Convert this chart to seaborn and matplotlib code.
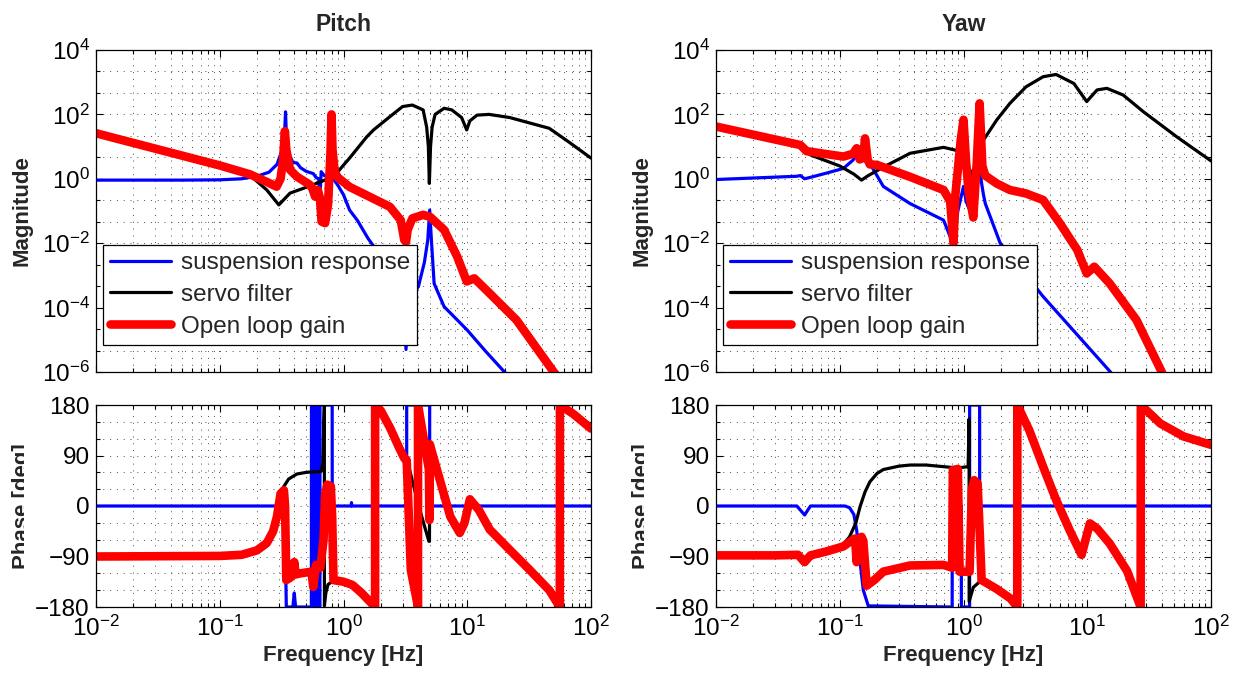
import numpy as np
import matplotlib
matplotlib.use("Agg")
import matplotlib.pyplot as plt
import matplotlib.ticker as mticker
from matplotlib.transforms import Bbox, TransformedBbox
import seaborn as sns

# ---------------- data ----------------
series_names = ["suspension response", "servo filter", "Open loop gain"]
panel_titles = ["Pitch", "Yaw"]

# Pitch magnitude
pitch_sus_f = [0.01, 0.05, 0.1, 0.15, 0.2, 0.25, 0.29, 0.32, 0.335, 0.34, 0.345, 0.36, 0.39, 0.42, 0.45,
               0.5, 0.57, 0.6, 0.63, 0.645, 0.66, 0.7, 0.82, 0.9, 1.0, 1.12, 1.3, 1.58, 2.0, 2.5,
               2.9, 3.1, 3.2, 3.3, 3.6, 4.03, 4.5, 4.8, 4.97, 5.15, 5.4, 6.5, 10, 14, 20, 25]
pitch_sus_mag = [0.91, 0.91, 0.93, 1.0, 1.2, 1.6, 2.8, 8, 32, 120, 25, 6.3, 3.2, 3.1, 2.2,
                 1.7, 1.45, 1.1, 1.0, 0.25, 1.66, 1.25, 1.05, 0.63, 0.32, 0.107, 0.05, 0.014, 4e-3, 1.3e-3,
                 3.2e-4, 6.3e-5, 5e-6, 6.3e-5, 2.5e-4, 4.5e-4, 2.5e-3, 1.26e-2, 0.107, 1e-2, 5.6e-4, 1.07e-4, 2e-5, 4.5e-6, 1e-6, 4e-7]

pitch_servo_f = [0.01, 0.1, 0.175, 0.24, 0.30, 0.37, 0.47, 0.6, 0.7, 0.88, 1.12, 1.54, 1.75, 2.37, 3.0,
                 3.6, 4.4, 4.7, 4.85, 4.94, 5.05, 5.2, 5.5, 6.5, 7.5, 9.0, 9.9, 10.5, 12, 15, 22, 46, 66, 100]
pitch_servo_mag = [29, 2.8, 1.3, 0.45, 0.155, 0.36, 0.5, 0.71, 0.9, 1.5, 4.4, 20, 33, 85, 175,
                   195, 138, 40, 10, 0.72, 10, 40, 100, 155, 138, 80, 33, 63, 95, 100, 80, 37, 14, 4.4]

pitch_olg_f = [0.01, 0.1, 0.175, 0.24, 0.288, 0.31, 0.325, 0.336, 0.345, 0.37, 0.42, 0.535, 0.56, 0.59,
               0.62, 0.645, 0.665, 0.71, 0.75, 0.785, 0.80, 0.815, 0.85, 0.9, 1.12, 1.63, 2.37, 2.9,
               3.1, 3.2, 3.3, 3.6, 4.4, 5.0, 6.5, 8.3, 9.9, 11.4, 15.2, 25, 50, 60]
pitch_olg_mag = [26, 2.6, 1.38, 0.8, 0.57, 1.0, 4.0, 30, 8, 1.9, 1.17, 0.65, 0.5, 0.28,
                 0.45, 0.25, 0.047, 0.042, 0.16, 6.3, 100, 8, 1.6, 1.1, 0.56, 0.275, 0.135, 0.052,
                 0.0126, 0.011, 0.026, 0.059, 0.076, 0.066, 0.026, 3.8e-3, 6.5e-4, 8.1e-4, 2.75e-4, 4.1e-5, 1e-6, 4e-7]

# Yaw magnitude
yaw_sus_f = [0.01, 0.045, 0.048, 0.052, 0.06, 0.078, 0.107, 0.128, 0.137, 0.15, 0.175, 0.225, 0.37, 0.69,
             0.78, 0.83, 0.9, 1.0, 1.05, 1.1, 1.2, 1.36, 1.45, 1.5, 1.98, 4.4, 15.4, 20]
yaw_sus_mag = [0.95, 1.2, 1.26, 1.0, 1.15, 1.5, 2.1, 3.8, 5.5, 4.0, 3.0, 0.58, 0.17, 0.052,
               0.016, 0.008, 0.1, 0.58, 0.2, 0.126, 0.4, 1.45, 0.32, 0.17, 0.01, 2.2e-4, 1e-6, 3.2e-7]

yaw_servo_f = [0.01, 0.048, 0.058, 0.1, 0.13, 0.15, 0.17, 0.225, 0.37, 0.69, 0.88, 1.0, 1.15, 1.2, 1.25,
               1.45, 1.86, 2.37, 3.2, 4.4, 5.6, 7.8, 9.9, 12, 14.4, 19.5, 28.5, 53, 100]
yaw_servo_mag = [44, 10, 5.5, 2.5, 1.4, 0.91, 1.26, 2.3, 6.2, 9.5, 7.6, 5.0, 1.6, 0.91, 4.0,
                 16, 68, 220, 720, 1480, 1740, 910, 250, 575, 645, 400, 120, 20, 3.6]

yaw_olg_f = [0.01, 0.048, 0.054, 0.107, 0.128, 0.137, 0.145, 0.155, 0.16, 0.168, 0.175, 0.2, 0.37, 0.69,
             0.78, 0.83, 0.86, 0.95, 1.0, 1.05, 1.1, 1.2, 1.28, 1.35, 1.42, 1.5, 1.86, 2.37, 3.2, 4.4,
             6.0, 8.3, 9.9, 11.4, 15.2, 25, 40, 45]
yaw_olg_mag = [42, 11.2, 7.2, 4.9, 6.0, 8.9, 4.0, 4.5, 18, 4.0, 2.8, 2.7, 1.15, 0.45,
               0.2, 0.01, 0.32, 16, 68, 3.2, 0.4, 0.063, 3.2, 220, 2.5, 1.26, 0.71, 0.45, 0.35, 0.22,
               0.042, 6.2e-3, 1.15e-3, 1.86e-3, 5.6e-4, 4.1e-5, 1e-6, 3.2e-7]

# Pitch phase [deg]
pitch_sus_ph_f = [0.01, 0.33, 0.34, 0.345, 0.39, 0.40, 0.41, 0.55, 0.551, 0.565, 0.566, 0.58, 0.581, 0.595,
                  0.596, 0.61, 0.611, 0.63, 0.631, 0.645, 0.646, 0.81, 0.811, 1.15, 1.16, 1.17, 3.24, 3.241,
                  4.97, 4.971, 100]
pitch_sus_ph = [0, 0, -90, -180, -180, -155, -180, -180, 180, 180, -180, -180, 180, 180,
                -180, -180, 180, 180, -180, -180, 180, 180, 0, 0, 6, 0, 0, 180,
                180, 0, 0]

pitch_servo_ph_f = [0.01, 0.1, 0.15, 0.2, 0.24, 0.27, 0.29, 0.31, 0.33, 0.36, 0.42, 0.5, 0.6, 0.66, 0.68,
                    0.70, 0.701, 0.72, 0.75, 0.84, 1.0, 1.2, 1.4, 1.8, 1.801, 2.0, 2.37, 2.8, 3.1, 3.24,
                    3.6, 4.0, 4.5, 4.9, 4.95, 4.98, 5.6, 7.3, 8.7, 9.5, 10.5, 12.4, 15.2, 22, 32, 46,
                    56, 56.1, 72, 100]
pitch_servo_ph = [-90, -89, -87, -79, -66, -45, -19, 25, 35, 48, 57, 60, 61, 62, 75,
                  178, -178, -155, -140, -132, -135, -142, -155, -180, 180, 170, 140, 105, 85, 85,
                  45, 5, -35, -63, -63, 110, 70, -19, -48, -30, 12, -7, -42, -78, -114, -150,
                  -180, 180, 164, 138]

pitch_olg_ph_f = [0.01, 0.1, 0.15, 0.2, 0.24, 0.27, 0.29, 0.31, 0.33, 0.337, 0.345, 0.37, 0.39, 0.40,
                  0.41, 0.45, 0.55, 0.57, 0.60, 0.65, 0.69, 0.71, 0.74, 0.79, 0.81, 0.83, 1.0, 1.16,
                  1.2, 1.4, 1.8, 1.801, 2.0, 2.37, 2.8, 3.1, 3.24, 3.5, 4.0, 4.001, 4.9, 4.95, 4.98,
                  5.6, 7.3, 8.7, 9.5, 10.5, 12.4, 15.2, 22, 32, 46, 56, 56.1, 72, 100]
pitch_olg_ph = [-90, -89, -87, -79, -66, -45, -19, 22, 28, 0, -132, -128, -122, -100,
                -122, -120, -117, -144, -105, -110, -60, 20, 38, 35, -20, -132, -135, -140,
                -142, -155, -180, 180, 170, 140, 105, 85, 82, -114, -180, 180, 65, -25, 110,
                70, -19, -48, -30, 12, -7, -42, -78, -114, -150, -180, 180, 164, 138]

# Yaw phase [deg]
yaw_sus_ph_f = [0.01, 0.045, 0.052, 0.058, 0.11, 0.12, 0.13, 0.137, 0.146, 0.155, 0.17, 0.81, 0.811,
                0.96, 0.961, 1.12, 1.121, 1.35, 1.351, 100]
yaw_sus_ph = [0, 0, -16, 0, 0, -3, -15, -43, -100, -150, -178, -180, 0,
              0, -180, -180, 180, 180, 0, 0]

yaw_servo_ph_f = [0.01, 0.046, 0.052, 0.058, 0.078, 0.107, 0.12, 0.135, 0.146, 0.16, 0.175, 0.2, 0.225,
                  0.3, 0.37, 0.5, 0.78, 0.9, 1.09, 1.11, 1.111, 1.2, 1.4, 1.86, 2.4, 2.72, 2.721, 3.4,
                  4.4, 5.6, 7.2, 9.0, 10.5, 12, 15.2, 21, 27, 27.1, 39, 60, 100]
yaw_servo_ph = [-88, -87, -92, -88, -80, -68, -55, -30, -1, 25, 43, 58, 65,
                71, 73, 73, 69, 68, 70, 155, -170, -145, -132, -148, -165, -180, 180, 135,
                70, 11, -43, -87, -31, -40, -67, -116, -180, 180, 147, 124, 109]

yaw_olg_ph_f = [0.01, 0.03, 0.046, 0.052, 0.058, 0.078, 0.107, 0.128, 0.133, 0.137, 0.143, 0.15, 0.155,
                0.165, 0.19, 0.225, 0.37, 0.69, 0.81, 0.82, 0.9, 0.93, 1.12, 1.17, 1.22, 1.3, 1.36,
                1.4, 1.86, 2.4, 2.72, 2.721, 3.4, 4.4, 5.6, 7.2, 9.0, 10.5, 12, 15.2, 21, 27, 27.1,
                39, 60, 100]
yaw_olg_ph = [-88, -88, -87, -100, -88, -81, -72, -60, -58, -100, -70, -55, -62,
              -142, -132, -117, -106, -105, -110, 64, 66, -117, -117, 30, 46, 40, -60,
              -132, -148, -165, -180, 180, 135, 70, 11, -43, -87, -31, -40, -67, -116, -180, 180,
              147, 124, 109]

# ---------------- style ----------------
sns.set_style("ticks")
plt.rcParams["font.family"] = ["Liberation Sans", "DejaVu Sans"]
plt.rcParams["axes.unicode_minus"] = True

colors = ["#0000ff", "#000000", "#ff0000"]
widths = [2.3, 2.3, 6.2]
tick_fs = 17.5

W, H = 1236, 679
fig = plt.figure(figsize=(W / 100, H / 100), dpi=100)


def px_axes(left, top, right, bottom):
    return fig.add_axes([left / W, 1 - bottom / H, (right - left) / W, (bottom - top) / H])


def style(ax, mag):
    ax.set_xscale("log")
    ax.set_xlim(1e-2, 1e2)
    ax.xaxis.set_major_locator(mticker.LogLocator(base=10, numticks=10))
    ax.xaxis.set_minor_locator(mticker.LogLocator(base=10, subs=np.arange(2, 10), numticks=20))
    ax.xaxis.set_minor_formatter(mticker.NullFormatter())
    if mag:
        ax.set_yscale("log")
        ax.set_ylim(1e-6, 1e4)
        ax.yaxis.set_major_locator(mticker.FixedLocator(10.0 ** np.arange(-6, 5, 2)))
        thirds = [e for e in np.arange(-6, 4.01, 2 / 3) if abs(e - round(e)) > 0.01 or round(e) % 2]
        ax.yaxis.set_minor_locator(mticker.FixedLocator(10.0 ** np.array(thirds)))
        ax.yaxis.set_major_formatter(mticker.LogFormatterSciNotation())
    else:
        ax.set_ylim(-180, 180)
        ax.yaxis.set_major_locator(mticker.FixedLocator([-180, -90, 0, 90, 180]))
        ax.yaxis.set_minor_locator(mticker.FixedLocator(np.arange(-150, 180, 30)))
    ax.yaxis.set_minor_formatter(mticker.NullFormatter())
    ax.grid(True, which="both", linestyle=(0, (1, 6)), color="0.3", linewidth=0.7)
    ax.tick_params(which="both", direction="in", top=True, right=True, width=0.8,
                   labelsize=tick_fs, colors="black")
    ax.tick_params(which="major", length=5)
    ax.tick_params(which="minor", length=3)
    ax.tick_params(axis="y", pad=4.5)
    ax.tick_params(axis="x", pad=6)
    for s in ax.spines.values():
        s.set_color("black")
        s.set_linewidth(0.9)
    ax.set_axisbelow(True)


panels = [
    (96, "Pitch",
     [(pitch_sus_f, pitch_sus_mag), (pitch_servo_f, pitch_servo_mag), (pitch_olg_f, pitch_olg_mag)],
     [(pitch_sus_ph_f, pitch_sus_ph), (pitch_servo_ph_f, pitch_servo_ph), (pitch_olg_ph_f, pitch_olg_ph)]),
    (716, "Yaw",
     [(yaw_sus_f, yaw_sus_mag), (yaw_servo_f, yaw_servo_mag), (yaw_olg_f, yaw_olg_mag)],
     [(yaw_sus_ph_f, yaw_sus_ph), (yaw_servo_ph_f, yaw_servo_ph), (yaw_olg_ph_f, yaw_olg_ph)]),
]

for left, title, mags, phases in panels:
    ax_m = px_axes(left, 50, left + 495, 372)
    ax_p = px_axes(left, 405, left + 495, 607)
    style(ax_m, True)
    style(ax_p, False)

    for (f, m), c, lw, name in zip(mags, colors, widths, series_names):
        sns.lineplot(x=f, y=m, ax=ax_m, color=c, linewidth=lw, sort=False,
                     estimator=None, label=name, legend=False)
    for (f, p), c, lw in zip(phases, colors, widths):
        sns.lineplot(x=f, y=p, ax=ax_p, color=c, linewidth=lw, sort=False,
                     estimator=None, legend=False)

    # seaborn may reset limits; enforce them again
    ax_m.set_xlim(1e-2, 1e2)
    ax_m.set_ylim(1e-6, 1e4)
    ax_p.set_xlim(1e-2, 1e2)
    ax_p.set_ylim(-180, 180)

    ax_m.tick_params(labelbottom=False)
    ax_m.set_xlabel("")
    ax_m.set_title(title, fontsize=16.5, fontweight="bold", pad=14)
    ax_m.set_ylabel("Magnitude", fontsize=16, fontweight="bold")
    ax_m.yaxis.set_label_coords(-63 / 495, 0.5)

    ax_p.set_xlabel("Frequency [Hz]", fontsize=16, fontweight="bold", labelpad=3)
    ax_p.set_ylabel("Phase [deg]", fontsize=16, fontweight="bold")
    ax_p.yaxis.set_label_coords(-63 / 495, 0.5)
    # the reference shows this label partly hidden; keep only its left part
    clip = TransformedBbox(Bbox.from_extents(0, 0, (left - 72.5) / W, 1), fig.transFigure)
    ax_p.yaxis.label.set_clip_on(True)
    ax_p.yaxis.label.set_clip_box(clip)

    leg = ax_m.legend(handles=ax_m.lines[:3], labels=series_names, loc="lower left",
                      bbox_to_anchor=(7 / 495, 27 / 322), borderaxespad=0, fontsize=tick_fs,
                      frameon=True, fancybox=False, edgecolor="black", framealpha=1,
                      handlelength=2.5, handletextpad=0.4, borderpad=0.3, labelspacing=0.4)
    leg.get_frame().set_linewidth(0.9)

fig.savefig("out.png", dpi=100)
